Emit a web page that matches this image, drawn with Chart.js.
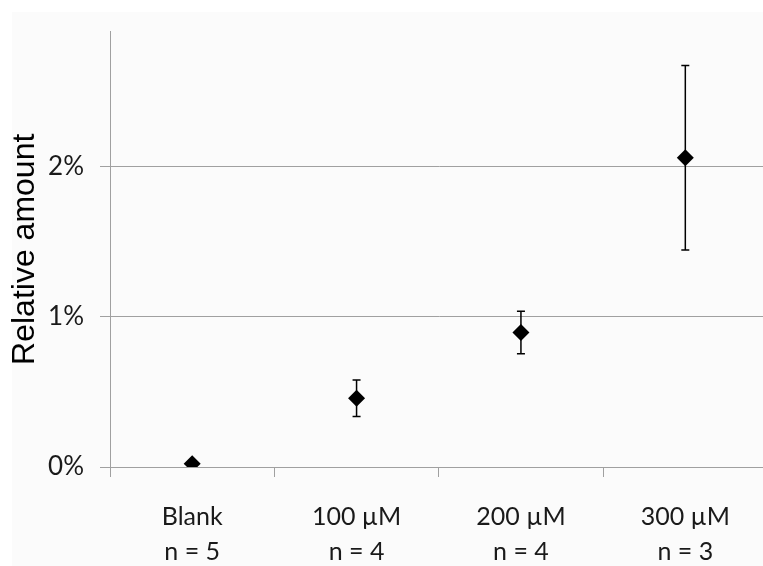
<!DOCTYPE html>
<html>
<head>
<meta charset="utf-8">
<script src="https://cdn.jsdelivr.net/npm/chart.js@4"></script>
<style>
  html, body { margin: 0; padding: 0; background: #ffffff; overflow: hidden; }
  #panel { position: absolute; left: 12px; top: 12px; width: 764px; height: 554px; background: #fbfbfb; }
  #myChart { position: absolute; left: 0; top: 0; }
</style>
</head>
<body>
<div id="panel"></div>
<canvas id="myChart" width="776" height="566"></canvas>
<script>
// categories (two-line tick labels)
const categories = [['Blank', 'n = 5'], ['100 µM', 'n = 4'], ['200 µM', 'n = 4'], ['300 µM', 'n = 3']];
// relative amount, in percent
const means = [0.022, 0.458, 0.896, 2.06];
// +/- error, in percent
const errors = [0.0, 0.122, 0.142, 0.615];
// y tick values
const yTicks = [0, 1, 2];

const axisGrey = '#a0a0a0';

// error bars drawn under the markers, through the chart's scales
const errorBars = {
  id: 'errorBars',
  beforeDatasetsDraw(chart) {
    const ctx = chart.ctx;
    const xs = chart.scales.x, ys = chart.scales.y;
    ctx.save();
    ctx.strokeStyle = '#000000';
    ctx.lineWidth = 1.5;
    means.forEach((m, i) => {
      if (!errors[i]) return;
      const x = xs.getPixelForValue(i);
      const top = ys.getPixelForValue(m + errors[i]);
      const bot = ys.getPixelForValue(m - errors[i]);
      ctx.beginPath();
      ctx.moveTo(x, top); ctx.lineTo(x, bot);
      ctx.moveTo(x - 4, top); ctx.lineTo(x + 4, top);
      ctx.moveTo(x - 4, bot); ctx.lineTo(x + 4, bot);
      ctx.stroke();
    });
    ctx.restore();
  }
};

const ctx = document.getElementById('myChart');

const dataset = {
  labels: categories,
  datasets: [{
    data: means,
    showLine: false,
    pointStyle: 'rectRot',
    pointRadius: 8.5,
    pointBackgroundColor: '#000000',
    pointBorderColor: '#000000',
    pointBorderWidth: 0
  }]
};

const config = {
  type: 'line',
  data: dataset,
  options: {
    responsive: false,
    animation: false,
    events: [],
    layout: { padding: { top: 0, right: 3, left: 0, bottom: 0 } },
    plugins: { legend: { display: false }, tooltip: { enabled: false } },
    scales: {
      x: {
        type: 'category',
        offset: true,
        grid: { offset: true, drawOnChartArea: false, drawTicks: true, tickLength: 10, color: axisGrey },
        border: { color: axisGrey, width: 1 },
        ticks: {
          color: '#1a1a1a',
          padding: 23,
          maxRotation: 0,
          autoSkip: false,
          font: { family: 'Lato', size: 25, lineHeight: 1.38 }
        },
        afterFit: (scale) => { scale.height = 99; }
      },
      y: {
        min: 0,
        max: 2.9,
        afterBuildTicks: (scale) => { scale.ticks = yTicks.map(v => ({ value: v })); },
        grid: { color: axisGrey, tickLength: 10, lineWidth: 1 },
        border: { color: axisGrey, width: 1 },
        ticks: {
          color: '#1a1a1a',
          padding: 16,
          font: { family: 'Lato', size: 26 },
          callback: (v) => v + '%'
        },
        title: {
          display: true,
          text: 'Relative amount',
          color: '#000000',
          font: { family: 'Liberation Sans', size: 32, lineHeight: 0.85 },
          padding: { top: 12, bottom: 0 }
        },
        afterFit: (scale) => { scale.width = 110; }
      }
    }
  },
  plugins: [errorBars]
};

const chart = new Chart(ctx, config);
</script>
</body>
</html>
